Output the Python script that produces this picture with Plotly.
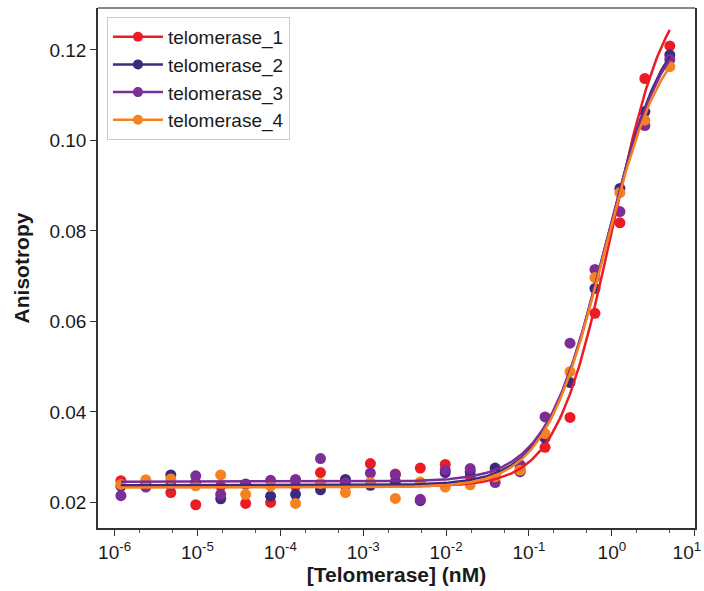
import numpy as np
import plotly.graph_objects as go

# Telomerase concentrations (nM), 2-fold dilution series
conc = [5.0, 2.5, 1.25, 0.625, 0.3125, 0.15625, 0.078125, 0.0390625,
        0.01953125, 0.009765625, 0.0048828125, 0.00244140625,
        0.001220703125, 6.1035e-4, 3.0518e-4, 1.5259e-4, 7.6294e-5,
        3.8147e-5, 1.9073e-5, 9.5367e-6, 4.7684e-6, 2.3842e-6, 1.1921e-6]

telomerase_1 = [0.1209, 0.1137, 0.0818, 0.0618, 0.0388, 0.0322, 0.0274, 0.0262,
                0.0258, 0.0284, 0.0276, 0.0263, 0.0286, 0.0237, 0.0266, 0.0237,
                0.0200, 0.0198, 0.0236, 0.0195, 0.0222, 0.0237, 0.0248]
telomerase_2 = [0.1189, 0.1064, 0.0894, 0.0673, 0.0465, 0.0342, 0.0268, 0.0276,
                0.0268, 0.0266, 0.0204, 0.0246, 0.0238, 0.0251, 0.0228, 0.0218,
                0.0214, 0.0241, 0.0208, 0.0244, 0.0261, 0.0240, 0.0236]
telomerase_3 = [0.1179, 0.1033, 0.0843, 0.0715, 0.0552, 0.0389, 0.0283, 0.0244,
                0.0275, 0.0272, 0.0207, 0.0261, 0.0265, 0.0243, 0.0297, 0.0251,
                0.0249, 0.0240, 0.0218, 0.0259, 0.0238, 0.0234, 0.0215]
telomerase_4 = [0.1163, 0.1045, 0.0885, 0.0697, 0.0489, 0.0352, 0.0271, 0.0257,
                0.0239, 0.0234, 0.0245, 0.0209, 0.0244, 0.0222, 0.0242, 0.0198,
                0.0236, 0.0218, 0.0261, 0.0237, 0.0252, 0.0250, 0.0240]

names = ["telomerase_1", "telomerase_2", "telomerase_3", "telomerase_4"]
series = [telomerase_1, telomerase_2, telomerase_3, telomerase_4]
colors = ["#ED1C24", "#3C2A80", "#7D2E96", "#F58220"]

# Hill fit parameters: bottom, amplitude, K (nM), n
fit_bottom = [0.0235, 0.0238, 0.0246, 0.0233]
fit_amp = [0.1134, 0.1058, 0.1041, 0.1033]
fit_k = [1.0, 0.83, 0.83, 0.8]
fit_n = [1.3, 1.2, 1.2, 1.2]

x_tickvals = [1e-6, 1e-5, 1e-4, 1e-3, 1e-2, 1e-1, 1e0, 1e1]
x_ticktext = ["10<sup>-6</sup>", "10<sup>-5</sup>", "10<sup>-4</sup>", "10<sup>-3</sup>",
              "10<sup>-2</sup>", "10<sup>-1</sup>", "10<sup>0</sup>",
              "10<sup>1</sup>\u00a0\u00a0\u00a0"]
y_ticks = [0.02, 0.04, 0.06, 0.08, 0.10, 0.12]

fig = go.Figure()

for name, ys, c in zip(names, series, colors):
    fig.add_trace(go.Scatter(x=conc, y=ys, mode="markers", showlegend=False,
                             marker=dict(color=c, size=11, line=dict(width=0))))

xc = np.logspace(np.log10(min(conc)), np.log10(max(conc)), 400)
for name, c, b, a, k, n in zip(names, colors, fit_bottom, fit_amp, fit_k, fit_n):
    yc = b + a * xc**n / (k**n + xc**n)
    fig.add_trace(go.Scatter(x=xc, y=yc, mode="lines", showlegend=False,
                             line=dict(color=c, width=2.5)))

for name, c in zip(names, colors):
    fig.add_trace(go.Scatter(x=[None], y=[None], mode="lines+markers", name=name,
                             line=dict(color=c, width=2.5),
                             marker=dict(color=c, size=10)))

fig.update_layout(
    width=704, height=591,
    margin=dict(l=98, r=9, t=8, b=63, autoexpand=False),
    paper_bgcolor="white", plot_bgcolor="white",
    font=dict(family="Liberation Sans, Arial, sans-serif", color="#1a1a1a", size=17),
    legend=dict(x=0.015, y=0.983, xanchor="left", yanchor="top",
                bordercolor="#cccccc", borderwidth=1, bgcolor="white",
                font=dict(size=19), tracegroupgap=0, itemwidth=50),
    shapes=[dict(type="line", xref="paper", yref="paper", x0=0, x1=1, y0=1, y1=1,
                 line=dict(color="#888888", width=2))],
)
fig.update_xaxes(
    type="log", range=[-6.2, 1.003], tickvals=x_tickvals, ticktext=x_ticktext,
    ticklabeloverflow="allow",
    showline=True, linecolor="#333333", linewidth=1.5, mirror=False, automargin=False,
    ticks="outside", ticklen=6, tickcolor="#333333", showgrid=False, zeroline=False,
    minor=dict(ticks="outside", ticklen=3, tickcolor="#555555", showgrid=False),
    tickfont=dict(size=19),
    title=dict(text="<b>[Telomerase] (nM)</b>", font=dict(size=21), standoff=6),
)
fig.update_yaxes(
    range=[0.01436, 0.12928], tickvals=y_ticks, tickformat=".2f",
    showline=True, linecolor="#333333", linewidth=1.5, mirror=True, automargin=False,
    ticks="outside", ticklen=6, tickcolor="#333333", showgrid=False, zeroline=False,
    tickfont=dict(size=19),
    title=dict(text="<b>Anisotropy</b>", font=dict(size=21), standoff=14),
)

fig.write_html("out.html", config={"displayModeBar": False},
               post_script="document.body.style.margin='0';")
